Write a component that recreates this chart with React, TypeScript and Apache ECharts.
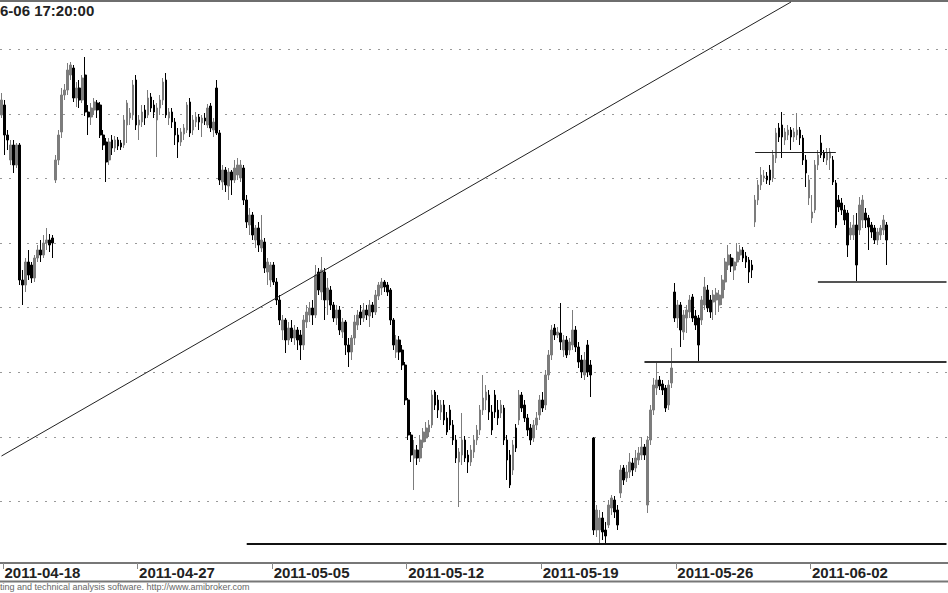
import React, { useEffect, useRef } from "react";
import * as echarts from "echarts";

// ---------- data ----------
const prevBar = "2011-04-15 17:00";
const tradingDays = [
  "2011-04-18", "2011-04-19", "2011-04-20", "2011-04-21", "2011-04-26", "2011-04-27", "2011-04-28", "2011-04-29",
  "2011-05-02", "2011-05-04", "2011-05-05", "2011-05-06", "2011-05-09", "2011-05-10", "2011-05-11", "2011-05-12",
  "2011-05-13", "2011-05-16", "2011-05-17", "2011-05-18", "2011-05-19", "2011-05-20", "2011-05-23", "2011-05-24",
  "2011-05-25", "2011-05-26", "2011-05-27", "2011-05-30", "2011-05-31", "2011-06-01", "2011-06-02", "2011-06-03",
  "2011-06-06",
];
const padDays = ["2011-06-07", "2011-06-08"];
const padLast = "2011-06-09 09:00";
const hours = ["09:00", "10:00", "11:00", "12:00", "13:00", "14:00", "15:00", "16:00", "17:00"];
const xTickLabels = ["2011-04-18", "2011-04-27", "2011-05-05", "2011-05-12", "2011-05-19", "2011-05-26", "2011-06-02"];

// [open, close, low, high]
const candles: number[][] = [
  [3035,3050,3032,3057],[3045,3015,2995,3050],[3015,3010,3000,3020],[2990,3005,2985,3010],[3005,2985,2977,3010],
  [2985,3005,2982,3007],[3005,2870,2865,3007],[2870,2865,2845,2880],[2865,2888,2858,2892],[2888,2875,2870,2900],
  [2885,2872,2867,2888],[2872,2892,2868,2895],[2892,2900,2888,2905],[2900,2895,2888,2910],[2895,2907,2892,2915],
  [2907,2910,2900,2922],[2910,2905,2898,2916],[2912,2907,2892,2915],[2970,2990,2967,2995],[2990,3015,2985,3020],
  [3018,3055,3012,3062],[3055,3060,3050,3066],[3060,3080,3055,3087],[3075,3085,3070,3088],[3082,3052,3048,3085],
  [3052,3062,3043,3068],[3062,3050,3042,3070],[3050,3072,3047,3075],[3075,3038,3034,3093],[3038,3033,3015,3045],
  [3033,3042,3025,3047],[3040,3048,3035,3052],[3047,3040,3032,3050],[3045,3015,3012,3048],[3015,3005,3000,3020],
  [3008,2988,2968,3012],[2990,3008,2985,3012],[3010,3002,2995,3015],[3002,3010,2998,3014],[3010,3004,3000,3013],
  [3007,3003,3000,3010],[3005,3030,3002,3035],[3025,3047,3007,3050],[3032,3037,3025,3042],[3035,3065,3030,3070],
  [3070,3025,3020,3075],[3025,3030,3010,3035],[3028,3038,3023,3045],[3040,3032,3025,3045],[3035,3052,3032,3060],
  [3053,3042,3038,3057],[3045,3038,3032,3050],[3030,3042,2993,3047],[3042,3050,3035,3055],[3050,3068,3045,3072],
  [3070,3035,3032,3077],[3032,3038,3025,3042],[3038,3028,3022,3042],[3028,3015,3005,3032],[3015,3008,2992,3022],
  [3008,3018,3004,3022],[3016,3022,3010,3026],[3020,3045,3017,3048],[3048,3017,3013,3052],[3020,3030,3015,3035],
  [3028,3033,3023,3038],[3033,3028,3020,3036],[3027,3032,3013,3035],[3032,3029,3025,3037],[3025,3042,3022,3046],
  [3044,3022,3018,3047],[3020,3028,3013,3032],[3062,3017,3015,3070],[3017,2970,2965,3020],[2968,2980,2960,2985],
  [2980,2965,2958,2983],[2964,2978,2950,2982],[2978,2970,2955,2980],[2970,2982,2967,2990],[2975,2985,2970,2992],
  [2972,2985,2968,2990],[2982,2950,2945,2985],[2950,2928,2922,2955],[2925,2935,2915,2942],[2935,2915,2910,2938],
  [2910,2922,2902,2925],[2922,2905,2898,2928],[2902,2910,2898,2935],[2908,2882,2877,2912],[2878,2888,2865,2892],
  [2870,2885,2863,2888],[2885,2868,2865,2888],[2868,2850,2845,2872],[2850,2830,2825,2855],[2820,2830,2810,2835],
  [2830,2810,2797,2832],[2810,2822,2805,2828],[2822,2812,2808,2830],[2812,2820,2805,2825],[2820,2810,2800,2823],
  [2815,2805,2790,2820],[2805,2830,2800,2835],[2828,2838,2822,2845],[2835,2842,2828,2848],[2842,2835,2825,2850],
  [2835,2875,2832,2885],[2878,2860,2855,2882],[2858,2880,2850,2893],[2878,2850,2830,2882],[2850,2862,2835,2872],
  [2860,2845,2840,2864],[2845,2832,2828,2848],[2832,2840,2825,2845],[2840,2820,2815,2844],[2818,2828,2812,2832],
  [2828,2805,2795,2830],[2805,2798,2783,2812],[2798,2812,2790,2815],[2812,2828,2805,2835],[2825,2835,2820,2840],
  [2838,2832,2825,2845],[2832,2840,2828,2847],[2840,2835,2830,2845],[2834,2845,2823,2850],[2845,2838,2832,2848],
  [2838,2855,2835,2860],[2854,2865,2850,2868],[2862,2868,2855,2872],[2868,2863,2858,2870],[2865,2858,2854,2868],
  [2860,2830,2825,2862],[2830,2805,2800,2832],[2798,2810,2792,2815],[2810,2798,2790,2814],[2800,2785,2780,2805],
  [2785,2750,2745,2788],[2750,2715,2710,2752],[2715,2695,2688,2718],[2692,2700,2660,2710],[2700,2692,2685,2705],
  [2692,2710,2688,2715],[2708,2718,2702,2722],[2712,2722,2708,2728],[2718,2725,2713,2730],[2725,2755,2722,2760],
  [2758,2745,2740,2760],[2750,2740,2732,2755],[2738,2745,2730,2750],[2745,2730,2725,2750],[2732,2718,2715,2738],
  [2740,2725,2720,2745],[2725,2710,2705,2730],[2710,2692,2687,2715],[2688,2698,2643,2702],[2695,2710,2685,2737],
  [2710,2692,2688,2714],[2695,2688,2677,2700],[2688,2700,2684,2705],[2698,2710,2692,2715],[2710,2720,2705,2725],
  [2720,2740,2715,2745],[2740,2752,2735,2775],[2750,2758,2740,2765],[2755,2738,2730,2760],[2738,2720,2715,2745],
  [2755,2738,2732,2760],[2740,2732,2725,2750],[2737,2745,2732,2750],[2742,2710,2705,2745],[2710,2690,2670,2715],
  [2695,2665,2662,2700],[2680,2705,2675,2710],[2722,2702,2698,2726],[2730,2755,2725,2760],[2755,2742,2738,2758],
  [2745,2732,2728,2750],[2732,2720,2714,2736],[2722,2710,2705,2726],[2712,2725,2708,2730],[2725,2732,2720,2738],
  [2735,2750,2730,2755],[2750,2742,2738,2758],[2745,2775,2740,2780],[2775,2795,2770,2800],[2795,2820,2790,2825],
  [2822,2815,2810,2826],[2815,2818,2812,2823],[2817,2808,2800,2847],[2800,2810,2793,2815],[2810,2795,2792,2814],
  [2800,2808,2795,2812],[2805,2820,2800,2840],[2820,2803,2798,2824],[2803,2788,2782,2808],[2790,2778,2772,2795],
  [2775,2790,2770,2798],[2805,2778,2773,2810],[2785,2775,2753,2790],[2712,2620,2615,2713],[2620,2640,2613,2645],
  [2620,2632,2607,2640],[2632,2618,2610,2638],[2620,2614,2607,2628],[2625,2645,2622,2650],[2642,2652,2635,2655],
  [2650,2638,2632,2654],[2640,2625,2620,2645],[2657,2680,2652,2685],[2682,2670,2665,2685],[2672,2678,2668,2685],
  [2678,2688,2672,2697],[2687,2680,2674,2692],[2682,2692,2678,2700],[2690,2697,2685,2703],[2695,2703,2690,2713],
  [2703,2695,2690,2706],[2645,2710,2637,2714],[2710,2740,2705,2745],[2740,2765,2735,2772],[2762,2770,2755,2787],
  [2770,2764,2760,2774],[2766,2760,2755,2770],[2762,2742,2738,2765],[2745,2765,2740,2770],[2767,2782,2762,2802],
  [2858,2832,2828,2867],[2832,2845,2822,2850],[2845,2820,2803,2848],[2818,2835,2810,2840],[2832,2840,2817,2845],
  [2838,2850,2832,2855],[2853,2832,2828,2856],[2834,2825,2820,2840],[2832,2805,2788,2835],[2830,2850,2825,2854],
  [2845,2863,2840,2873],[2860,2842,2838,2865],[2850,2838,2832,2855],[2848,2855,2830,2860],[2850,2857,2835,2862],
  [2845,2855,2838,2860],[2852,2870,2845,2875],[2868,2888,2860,2892],[2885,2895,2880,2905],[2892,2884,2878,2896],
  [2880,2888,2870,2892],[2888,2898,2884,2907],[2895,2900,2890,2905],[2900,2892,2888,2903],[2894,2888,2882,2898],
  [2890,2878,2867,2893],[2885,2880,2872,2890],[2928,2950,2923,2955],[2950,2965,2945,2970],[2965,2975,2960,2983],
  [2972,2974,2968,2980],[2974,2970,2966,2978],[2980,2970,2965,2985],[2972,2995,2968,3000],[2992,3017,2987,3022],
  [3022,3013,3008,3027],[3025,3013,2992,3038],[3010,3018,3005,3022],[3015,3020,3010,3025],[3020,3013,3000,3023],
  [3013,3018,3008,3022],[3015,3020,3010,3037],[3020,3012,3005,3023],[3012,2990,2985,3015],[2990,2977,2963,2995],
  [2952,2970,2945,2975],[2932,2938,2927,2955],[2940,2985,2937,2990],[2985,2995,2980,3000],[3007,2995,2992,3015],
  [2997,2992,2988,3000],[2990,2997,2985,3002],[2992,2998,2980,3002],[2990,2968,2965,2994],[2967,2925,2922,2970],
  [2950,2943,2938,2955],[2947,2940,2935,2952],[2940,2930,2925,2945],[2937,2905,2893,2940],[2915,2922,2910,2928],
  [2915,2925,2910,2935],[2925,2885,2868,2937],[2920,2945,2915,2953],[2930,2950,2922,2955],[2937,2930,2922,2942],
  [2932,2923,2900,2935],[2925,2918,2912,2928],[2922,2910,2906,2925],[2910,2918,2905,2922],[2915,2922,2910,2925],
  [2920,2930,2915,2935],[2925,2910,2885,2928],
];

// horizontal levels: [startIndex, endIndex, price]
const supportLevels: number[][] = [
  [82, 316, 2606],
  [215, 316, 2788],
  [273, 316, 2868.5],
  [252, 279, 2998],
];
// trend line: [[index, price], [index, price]]
const trendLine: number[][] = [[0, 2694], [264, 3148]];

// visible (cropped) parts of the header and footer texts
const titleText = "6-06 17:20:00";
const footerText = "ting and technical analysis software. http://www.amibroker.com";

// ---------- build ----------
const categories: string[] = [
  prevBar,
  ...tradingDays.flatMap((d) => hours.map((h) => `${d} ${h}`)),
  ...padDays.flatMap((d) => hours.map((h) => `${d} ${h}`)),
  padLast,
];

const isLabelBar = (_i: number, v: string) =>
  typeof v === "string" && v.endsWith("09:00") && xTickLabels.includes(v.slice(0, 10));

export default function App() {
  const ref = useRef<HTMLDivElement>(null);
  useEffect(() => {
    if (!ref.current) return;
    const chart = echarts.init(ref.current, undefined, { renderer: "svg" });
    const font = '"Liberation Sans", Arial, sans-serif';
    const lineStyles = [
      { color: "#111", width: 2 },
      { color: "#333", width: 2 },
      { color: "#555", width: 2 },
      { color: "#222", width: 1 },
    ];
    const markData: any[] = supportLevels.map((s, i) => [
      { coord: [s[0], s[2]], lineStyle: { ...lineStyles[i], type: "solid" } },
      { coord: [s[1], s[2]] },
    ]);
    markData.push([
      { coord: trendLine[0], lineStyle: { color: "#222", width: 1, type: "solid" } },
      { coord: trendLine[1] },
    ]);
    chart.setOption({
      animation: false,
      backgroundColor: "#fff",
      grid: { left: 0, right: 0, top: 2, bottom: 27, containLabel: false },
      xAxis: {
        type: "category",
        data: categories,
        boundaryGap: true,
        offset: -3,
        axisLine: { show: true, lineStyle: { color: "#777", width: 2 } },
        axisTick: {
          show: true,
          interval: isLabelBar,
          length: 6,
          lineStyle: { color: "#888", width: 1 },
        },
        axisLabel: {
          show: true,
          interval: isLabelBar,
          formatter: (v: string) => v.slice(0, 10),
          align: "left",
          margin: 2,
          fontSize: 15,
          lineHeight: 15,
          fontWeight: "bold",
          fontFamily: font,
          color: "#222",
        },
        splitLine: { show: false },
      },
      yAxis: {
        type: "value",
        min: 2584,
        max: 3148,
        interval: 64.6,
        axisLabel: { show: false },
        axisLine: { show: false },
        axisTick: { show: false },
        splitLine: {
          show: true,
          showMinLine: false,
          showMaxLine: false,
          lineStyle: { color: "#999", type: [2, 7], width: 1 },
        },
      },
      series: [
        {
          type: "candlestick",
          data: candles,
          barWidth: 2.2,
          itemStyle: {
            color: "#7c7c7c",
            color0: "#000",
            borderColor: "#7c7c7c",
            borderColor0: "#000",
            borderWidth: 1,
          },
          markLine: {
            silent: true,
            symbol: ["none", "none"],
            label: { show: false },
            emphasis: { disabled: true },
            data: markData,
          },
        },
      ],
      graphic: [
        { type: "rect", shape: { x: 0, y: 0, width: 948, height: 2 }, style: { fill: "#6e6e6e" }, silent: true },
        { type: "rect", shape: { x: 0, y: 580.5, width: 948, height: 2 }, style: { fill: "#777" }, silent: true },
        {
          type: "text",
          x: 0,
          y: 10.5,
          style: {
            text: titleText,
            font: `bold 15px ${font}`,
            fill: "#222",
            textAlign: "left",
            textVerticalAlign: "middle",
          },
          silent: true,
        },
        {
          type: "text",
          x: 0,
          y: 587,
          style: {
            text: footerText,
            font: `9px ${font}`,
            fill: "#666",
            textAlign: "left",
            textVerticalAlign: "middle",
          },
          silent: true,
        },
      ],
    });
    return () => chart.dispose();
  }, []);
  return (
    <div
      ref={ref}
      style={{ position: "absolute", left: 0, top: 0, width: 948, height: 593, background: "#fff" }}
    />
  );
}
